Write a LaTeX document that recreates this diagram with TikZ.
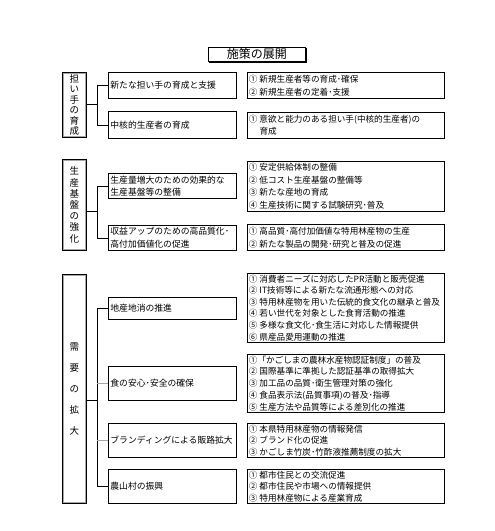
\documentclass[tikz,border=0pt]{standalone}
\usepackage{fontspec}
\setmainfont{Noto Sans CJK JP}
\newcommand\isp{\hspace{2pt}}
\begin{document}
\begin{tikzpicture}[x=1pt,y=-1pt,
  titlebox/.style={draw, line width=0.8pt, anchor=north west, minimum width=97pt, minimum height=14pt, inner sep=0pt, font=\fontsize{12}{14}\selectfont},
  catbox/.style={draw, line width=0.8pt, anchor=north west, minimum width=24pt, inner sep=0pt, align=center},
  catinner/.style={draw=gray!70, line width=1.3pt},
  midbox/.style={draw, line width=0.8pt, anchor=north west, text width=124pt, inner xsep=2pt, inner ysep=0pt, align=left},
  itembox/.style={draw, line width=0.8pt, anchor=north west, text width=194pt, inner xsep=1.5pt, inner ysep=0pt, align=left},
  link/.style={line width=0.7pt},
  glink/.style={line width=0.7pt, draw=gray!70}
]
\useasboundingbox (0,0) rectangle (495,531);

% title
\node[titlebox] (T) at (208,47) {施策の展開};
\draw[line width=1pt] ([shift={(0.9pt,-1pt)}]T.north east) -- ([shift={(0.9pt,-0.9pt)}]T.south east) -- ([shift={(1pt,-0.9pt)}]T.south west);

% category boxes
\node[catbox, minimum height=65pt, font=\fontsize{9.5}{10.4}\selectfont] (L1) at (62,72) {担\\い\\手\\の\\育\\成};
\node[catbox, minimum height=91pt, font=\fontsize{9.5}{11.2}\selectfont] (L2) at (62,159) {生\\産\\基\\盤\\の\\強\\化};
\node[catbox, minimum height=229pt, font=\fontsize{9.5}{21}\selectfont] (L3) at (62,274) {需\\要\\の\\拡\\大};
\foreach \n in {L1,L2,L3}{
  \draw[catinner] ([shift={(1.4pt,-1.4pt)}]\n.north west) rectangle ([shift={(-1.4pt,1.4pt)}]\n.south east);
}

% middle boxes
\node[midbox, minimum height=26pt, font=\fontsize{8.8}{12.5}\selectfont] (M1) at (108,72) {新たな担い手の育成と支援};
\node[midbox, minimum height=27pt, font=\fontsize{8.8}{12.5}\selectfont] (M2) at (108,111) {中核的生産者の育成};
\node[midbox, minimum height=25pt, font=\fontsize{8.8}{12.5}\selectfont] (M3) at (108,173) {生産量増大のための効果的な\\生産基盤等の整備};
\node[midbox, minimum height=25pt, font=\fontsize{8.8}{12.5}\selectfont] (M4) at (108,225) {収益アップのための高品質化･\\高付加価値化の促進};
\node[midbox, minimum height=22pt, font=\fontsize{8.8}{12.5}\selectfont] (M5) at (108,297) {地産地消の推進};
\node[midbox, minimum height=34pt, font=\fontsize{8.8}{12.5}\selectfont] (M6) at (108,366) {食の安心･安全の確保};
\node[midbox, minimum height=34pt, font=\fontsize{8.8}{12.5}\selectfont] (M7) at (108,423) {ブランディングによる販路拡大};
\node[midbox, minimum height=34pt, font=\fontsize{8.8}{12.5}\selectfont] (M8) at (108,469) {農山村の振興};

% item boxes
\node[itembox, minimum height=26pt, font=\fontsize{8.6}{13}\selectfont] (R1) at (247,72) {①\isp 新規生産者等の育成･確保\\②\isp 新規生産者の定着･支援};
\node[itembox, minimum height=26pt, font=\fontsize{8.6}{12}\selectfont] (R2) at (247,112) {①\isp 意欲と能力のある担い手(中核的生産者)の\\\phantom{①}\isp 育成};
\node[itembox, minimum height=50pt, font=\fontsize{8.6}{12.5}\selectfont] (R3) at (247,161) {①\isp 安定供給体制の整備\\②\isp 低コスト生産基盤の整備等\\③\isp 新たな産地の育成\\④\isp 生産技術に関する試験研究･普及};
\node[itembox, minimum height=26pt, font=\fontsize{8.6}{13}\selectfont] (R4) at (247,224) {①\isp 高品質･高付加価値な特用林産物の生産\\②\isp 新たな製品の開発･研究と普及の促進};
\node[itembox, minimum height=69pt, font=\fontsize{8.6}{11.6}\selectfont] (R5) at (247,273) {①\isp 消費者ニーズに対応したPR活動と販売促進\\②\isp IT技術等による新たな流通形態への対応\\③\isp 特用林産物を用いた伝統的食文化の継承と普及\\④\isp 若い世代を対象とした食育活動の推進\\⑤\isp 多様な食文化･食生活に対応した情報提供\\⑥\isp 県産品愛用運動の推進};
\node[itembox, minimum height=58pt, font=\fontsize{8.6}{11.7}\selectfont] (R6) at (247,354) {①「かごしまの農林水産物認証制度」の普及\\②\isp 国際基準に準拠した認証基準の取得拡大\\③\isp 加工品の品質･衛生管理対策の強化\\④\isp 食品表示法(品質事項)の普及･指導\\⑤\isp 生産方法や品質等による差別化の推進};
\node[itembox, minimum height=34pt, font=\fontsize{8.6}{11.4}\selectfont] (R7) at (247,423) {①\isp 本県特用林産物の情報発信\\②\isp ブランド化の促進\\③\isp かごしま竹炭･竹酢液推薦制度の拡大};
\node[itembox, minimum height=34pt, font=\fontsize{8.6}{11.4}\selectfont] (R8) at (247,469) {①\isp 都市住民との交流促進\\②\isp 都市住民や市場への情報提供\\③\isp 特用林産物による産業育成};

% connectors
\coordinate (J1) at (97,104);
\coordinate (J2) at (97,211);
\coordinate (J3) at (97,400);
\draw[link] (L1.east |- J1) -- (J1);
\draw[link] (M1.west) -- (M1.west -| J1) -- (M2.west -| J1) -- (M2.west);
\draw[link] (L2.east |- J2) -- (J2);
\draw[link] (M3.west) -- (M3.west -| J2) -- (M4.west -| J2) -- (M4.west);
\draw[link] (L3.east |- J3) -- (J3);
\draw[link] (M5.west) -- (M5.west -| J3) -- (M8.west -| J3) -- (M8.west);
\draw[glink] (M6.west -| J3) -- (M6.west);
\draw[glink] (M7.west -| J3) -- (M7.west);
\end{tikzpicture}
\end{document}
